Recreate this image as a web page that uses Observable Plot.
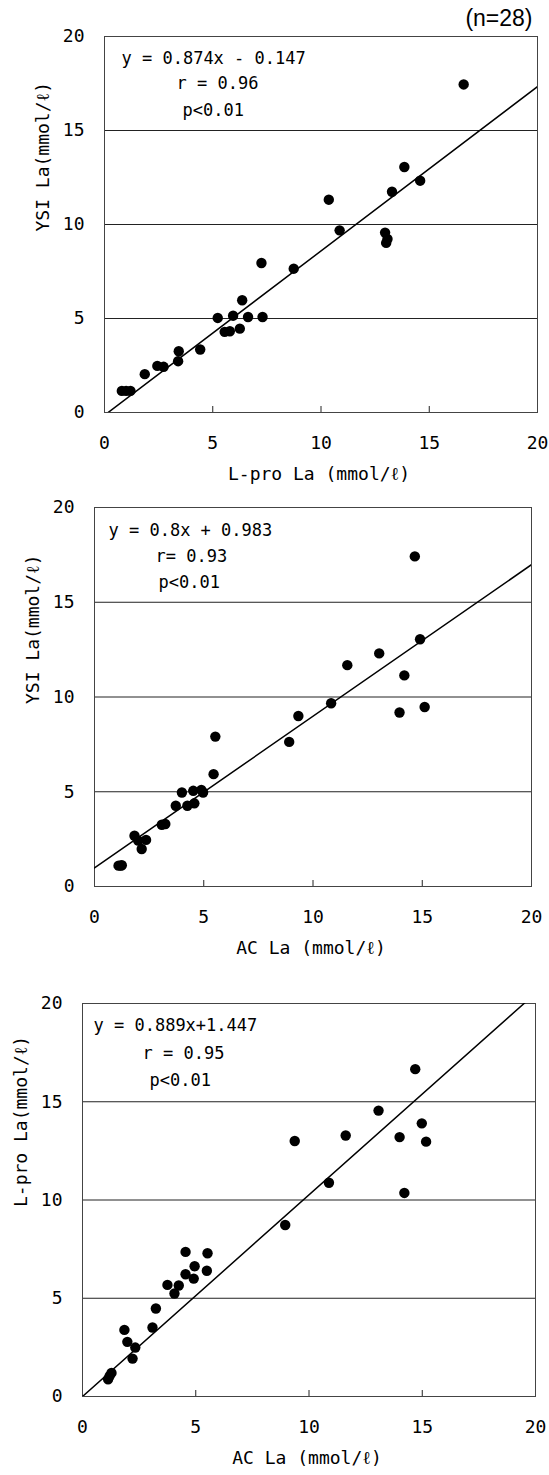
<!DOCTYPE html>
<html><head><meta charset="utf-8">
<script src="https://cdn.jsdelivr.net/npm/d3@7"></script>
<script src="https://cdn.jsdelivr.net/npm/@observablehq/plot@0.6"></script>
<style>
body{margin:0;background:#fff;width:549px}
svg{display:block}
</style>
</head><body><div id="chart"></div>
<script>
// ---- data ----
const tickValues = [0, 5, 10, 15, 20];
const gridValues = [5, 10, 15];
const sampleNote = "(n=28)";

// Panel 1: L-pro (x) vs YSI (y)
const p1Lpro = [0.8, 1.0, 1.2, 1.86, 2.44, 2.73, 3.40, 3.43, 4.42, 5.23, 5.55, 5.79, 6.25, 5.94, 6.36, 6.63, 7.30, 7.25, 8.74, 10.36, 10.86, 12.96, 13.07, 13.01, 13.28, 13.85, 14.58, 16.59];
const p1YSI  = [1.15, 1.15, 1.15, 2.04, 2.48, 2.43, 2.73, 3.26, 3.35, 5.03, 4.29, 4.32, 4.46, 5.15, 5.97, 5.08, 5.08, 7.95, 7.65, 11.32, 9.69, 9.57, 9.23, 9.02, 11.74, 13.06, 12.33, 17.45];
const p1Notes = ["y = 0.874x - 0.147", "r = 0.96", "p<0.01"];
const p1Fit = [0.874, -0.147];

// Panel 2: AC (x) vs YSI (y)
const p2AC  = [1.1, 1.2, 1.25, 1.83, 2.0, 2.16, 2.36, 3.08, 3.24, 3.72, 4.0, 4.25, 4.52, 4.57, 4.89, 4.97, 5.45, 5.53, 8.91, 9.33, 10.83, 11.57, 13.03, 13.96, 14.18, 14.66, 14.9, 15.11];
const p2YSI = [1.1, 1.1, 1.12, 2.68, 2.42, 1.98, 2.46, 3.26, 3.30, 4.26, 4.96, 4.26, 5.05, 4.39, 5.1, 4.96, 5.93, 7.91, 7.63, 9.0, 9.67, 11.68, 12.3, 9.18, 11.14, 17.42, 13.05, 9.47];
const p2Notes = ["y = 0.8x + 0.983", "r= 0.93", "p<0.01"];
const p2Fit = [0.8, 0.983];

// Panel 3: AC (x) vs L-pro (y)
const p3AC   = [1.13, 1.2, 1.28, 1.85, 1.98, 2.21, 2.33, 3.09, 3.24, 3.75, 4.06, 4.25, 4.55, 4.55, 4.91, 4.95, 5.49, 5.52, 8.95, 9.37, 10.88, 11.62, 13.07, 14.0, 14.21, 14.69, 14.98, 15.17];
const p3Lpro = [0.88, 1.05, 1.2, 3.39, 2.78, 1.93, 2.49, 3.51, 4.48, 5.68, 5.24, 5.65, 6.22, 7.36, 6.0, 6.63, 6.40, 7.29, 8.73, 13.0, 10.88, 13.28, 14.55, 13.2, 10.36, 16.66, 13.9, 12.97];
const p3Notes = ["y = 0.889x+1.447", "r = 0.95", "p<0.01"];
const p3Fit = [1.026, 0]; // line as drawn in the picture

const FONT = "'DejaVu Sans Mono', monospace";

function panel({xs, ys, xLabel, yLabel, notes, fit, height, mt, mb, ml, mr, noteOffsets, extra = []}) {
  const pts = xs.map((x, i) => ({x, y: ys[i]}));
  const fitLine = [0, 20].map(x => ({x, y: fit[0] * x + fit[1]}));
  const noteMarks = notes.map((t, i) => Plot.text([t], {
    frameAnchor: "top-left", dx: noteOffsets[i][0], dy: noteOffsets[i][1],
    textAnchor: "start", lineAnchor: "middle", fontSize: 17, fill: "black"
  }));
  return Plot.plot({
    width: 549, height,
    marginTop: mt, marginBottom: mb, marginLeft: ml, marginRight: mr,
    style: {fontFamily: FONT, background: "white", color: "black", overflow: "visible"},
    x: {domain: [0, 20]},
    y: {domain: [0, 20]},
    marks: [
      Plot.ruleY(gridValues, {stroke: "#222", strokeWidth: 1}),
      Plot.frame({stroke: "#444", strokeWidth: 1}),
      // short inward tick marks on the bottom edge
      Plot.ruleX(gridValues, {x: d => d, y1: () => 0, y2: () => 0, insetTop: -6, stroke: "#222", strokeWidth: 1}),
      Plot.axisX(tickValues, {tickSize: 0, tickPadding: 24, fontSize: 18, label: null, fill: "black"}),
      Plot.axisY(tickValues, {tickSize: 0, tickPadding: 20, fontSize: 18, label: null, fill: "black"}),
      Plot.line(fitLine, {x: "x", y: "y", stroke: "black", strokeWidth: 1.5, clip: true}),
      Plot.dot(pts, {x: "x", y: "y", r: 5.2, fill: "black", stroke: "none"}),
      ...noteMarks,
      Plot.text([xLabel], {frameAnchor: "bottom", dy: 62, dx: -2, lineAnchor: "middle", fontSize: 18, fill: "black"}),
      Plot.text([yLabel], {frameAnchor: "left", dx: -61, dy: 7, rotate: -90, lineAnchor: "middle", fontSize: 18, fill: "black"}),
      ...extra
    ]
  });
}

const root = document.getElementById("chart");
root.appendChild(panel({
  xs: p1Lpro, ys: p1YSI, xLabel: "L-pro La (mmol/ℓ)", yLabel: "YSI La(mmol/ℓ)",
  notes: p1Notes, fit: p1Fit, height: 490, mt: 36, mb: 78, ml: 104, mr: 12,
  noteOffsets: [[17, 22], [72, 47], [78, 74]],
  extra: [Plot.text([sampleNote], {frameAnchor: "top-right", dx: -5, dy: -18, textAnchor: "end", lineAnchor: "middle",
    fontSize: 23, fontFamily: "'Liberation Sans', Arial, sans-serif", fill: "black"})]
}));
root.appendChild(panel({
  xs: p2AC, ys: p2YSI, xLabel: "AC La (mmol/ℓ)", yLabel: "YSI La(mmol/ℓ)",
  notes: p2Notes, fit: p2Fit, height: 470, mt: 17, mb: 74, ml: 94, mr: 18,
  noteOffsets: [[14, 23], [61, 49], [64, 75]]
}));
root.appendChild(panel({
  xs: p3AC, ys: p3Lpro, xLabel: "AC La (mmol/ℓ)", yLabel: "L-pro La(mmol/ℓ)",
  notes: p3Notes, fit: p3Fit, height: 515, mt: 43, mb: 79, ml: 82, mr: 14,
  noteOffsets: [[11, 22], [60, 50], [67, 77]]
}));
</script>
</body></html>
